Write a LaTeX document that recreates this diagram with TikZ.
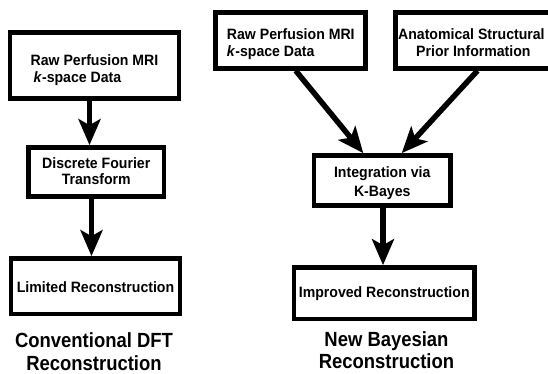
\documentclass[tikz,border=0pt]{standalone}
\usepackage{fontspec}
\setmainfont{Liberation Sans}
\newfontfamily\boxfont[FakeStretch=0.94]{Liberation Sans}
\newfontfamily\titlefont[FakeStretch=0.9]{Liberation Sans}
\usetikzlibrary{arrows.meta}
% text block of a box: alignment, downward shift, lines
\newcommand\boxlines[3]{\raisebox{-#2}[\height][\depth]{\begin{tabular}{@{}#1@{}}#3\end{tabular}}}
\begin{document}
\begin{tikzpicture}[x=1pt,y=-1pt,
  box/.style={draw=black,line width=4.7pt,fill=white,inner sep=0pt,
    font=\boxfont\bfseries\fontsize{15}{16.7}\selectfont},
  arr/.style={line width=5.5pt,-{Stealth[length=26pt,width=22pt,inset=6pt]}},
  ttl/.style={anchor=base,inner sep=0pt,font=\titlefont\bfseries\fontsize{20.5}{22.5}\selectfont}]
\useasboundingbox (0,0) rectangle (548,373);
% left column
\node[box,minimum width=169pt,minimum height=66.2pt] (l1) at (94.5,65.4)
  {\boxlines{l}{5.6pt}{Raw Perfusion MRI\\\hspace{3pt}\textit{k}-space Data}};
\node[box,minimum width=135.5pt,minimum height=49pt] (l2) at (96.25,172)
  {\boxlines{c}{1.3pt}{Discrete Fourier\\Transform}};
\node[box,minimum width=169pt,minimum height=55.5pt] (l3) at (95.5,286.25)
  {\boxlines{c}{2.75pt}{Limited Reconstruction}};
\draw[arr] (l1.south -| 89.5,0) -- (l2.north -| 89.5,0);
\draw[arr] (l2.south -| 91.5,0) -- (l3.north -| 91.5,0);
\node[ttl] (lt) at (94,347.5) {\begin{tabular}[t]{@{}c@{}}Conventional DFT\\Reconstruction\end{tabular}};
% right column
\node[box,minimum width=150pt,minimum height=56pt] (r1) at (290.8,40.3)
  {\boxlines{l}{4.7pt}{Raw Perfusion MRI\\\textit{k}-space Data}};
\node[box,minimum width=155.2pt,minimum height=56pt] (r2) at (473.4,40.3)
  {\boxlines{c}{4.7pt}{\hspace*{-4pt}Anatomical Structural\\Prior Information}};
\node[box,minimum width=136.5pt,minimum height=50pt] (r3) at (382.25,180.5)
  {\boxlines{c}{3.2pt}{Integration via\\[3pt]K-Bayes}};
\node[box,minimum width=180.5pt,minimum height=51.5pt] (r4) at (384.25,293.25)
  {\boxlines{c}{0.5pt}{Improved Reconstruction}};
\draw[arr] (r1.south -| 295.7,0) -- (r3.north -| 363.3,0);
\draw[arr] (r2.south -| 477.5,0) -- (r3.north -| 401.7,0);
\draw[arr] (r3.south -| 383,0) -- (r4.north -| 383,0);
\node[ttl] (rt) at (386.5,346) {\begin{tabular}[t]{@{}c@{}}New Bayesian\\Reconstruction\end{tabular}};
\end{tikzpicture}
\end{document}
